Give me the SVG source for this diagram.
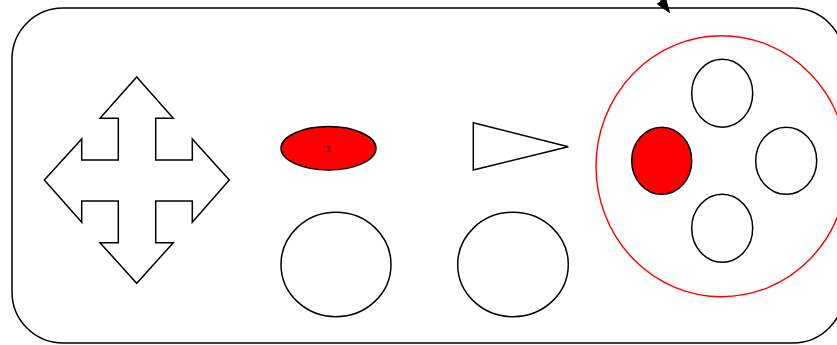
<svg xmlns="http://www.w3.org/2000/svg" width="837" height="345" viewBox="0 0 837 345">
<style>
.s{fill:#fff;stroke:#000;stroke-width:1.5}
.r{fill:#f00;stroke:#000;stroke-width:1.5}
.t{font-family:"Liberation Sans",Arial,sans-serif;font-size:9.5px;fill:#000;text-anchor:middle}
</style>
<rect width="837" height="345" fill="#fff"/>
<g id="body"><rect class="s" x="12" y="8" width="832" height="335" rx="51" ry="51"/></g>
<g id="dpad"><polygon class="s" points="136.7,77 173.3,118.3 155.7,118.3 155.7,160 192.3,160 192.3,139 229.3,180 192.3,222.3 192.3,201 155.7,201 155.7,242.7 173.3,242.7 136.7,283.3 100,242.7 118.3,242.7 118.3,201 81.7,201 81.7,222.3 44.3,180 81.7,139 81.7,160 118.3,160 118.3,118.3 100,118.3"/></g>
<g id="select"><ellipse class="r" cx="328.5" cy="148.3" rx="47.5" ry="21.7"/><text class="t" x="328.5" y="152">1</text></g>
<g id="start"><polygon class="s" points="473.3,122.7 568.3,146.7 473.3,170"/></g>
<g id="stickL"><ellipse class="s" cx="336" cy="264.5" rx="55" ry="52.2"/></g>
<g id="stickR"><ellipse class="s" cx="513" cy="264.5" rx="55.3" ry="52.2"/></g>
<g id="buttons"><ellipse fill="none" stroke="#f00" stroke-width="1.4" cx="721.7" cy="166.2" rx="125.7" ry="130.5"/></g>
<g id="btnTop"><ellipse class="s" cx="722.2" cy="93.3" rx="30.5" ry="34"/></g>
<g id="btnLeft"><ellipse class="r" cx="661.7" cy="160.8" rx="30" ry="33.5"/></g>
<g id="btnRight"><ellipse class="s" cx="786.2" cy="160.8" rx="30.5" ry="33.5"/></g>
<g id="btnBottom"><ellipse class="s" cx="722.2" cy="228.2" rx="30.5" ry="34"/></g>
<g id="connectors">
<path d="M640,-40 L661.4,1" fill="none" stroke="#000" stroke-width="1.5"/>
<polygon points="669.5,12.5 665.5,-1.8 657.3,3.9" fill="#000" stroke="#000" stroke-width="1"/>
</g>
</svg>
